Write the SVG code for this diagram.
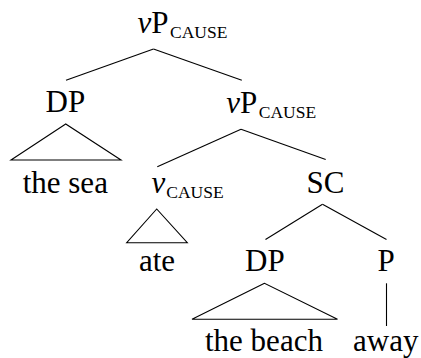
<svg xmlns="http://www.w3.org/2000/svg" width="421" height="358" viewBox="0 0 421 358">
<style>
text{font-family:"Liberation Serif","Times New Roman",serif;font-size:31px;fill:#000}
.it{font-style:italic}
.sub{font-size:17.5px}
.edge{stroke:#000;stroke-width:1.1;fill:none}
</style>
<rect width="421" height="358" fill="#fff"/>
<g id="connectors">
<line class="edge" x1="153.5" y1="49" x2="66" y2="80.3"/>
<line class="edge" x1="153.5" y1="49" x2="241.8" y2="80.3"/>
<polygon class="edge" points="65.7,124 11,160 121,160"/>
<line class="edge" x1="241" y1="129.3" x2="157.3" y2="166.7"/>
<line class="edge" x1="241" y1="129.3" x2="325.7" y2="159.5"/>
<polygon class="edge" points="156.7,209 126.7,242.7 187.3,242.7"/>
<line class="edge" x1="322.5" y1="204.3" x2="265.5" y2="239.5"/>
<line class="edge" x1="322.5" y1="204.3" x2="386.5" y2="239.5"/>
<polygon class="edge" points="264.5,283.3 192,319.3 337.5,319.3"/>
<line class="edge" x1="386.5" y1="283.3" x2="386.5" y2="326"/>
</g>
<g id="vP-top"><text x="137.5" y="33.3"><tspan class="it">v</tspan>P<tspan class="sub" dx="1.5" dy="5">CAUSE</tspan></text></g>
<g id="DP-1"><text x="45.5" y="112">DP</text></g>
<g id="the-sea"><text x="22.7" y="193">the sea</text></g>
<g id="vP-mid"><text x="226.3" y="113.3"><tspan class="it">v</tspan>P<tspan class="sub" dx="1.5" dy="5">CAUSE</tspan></text></g>
<g id="v-cause"><text x="151.5" y="192.5"><tspan class="it">v</tspan><tspan class="sub" dx="1" dy="5">CAUSE</tspan></text></g>
<g id="SC"><text x="306.5" y="192.5">SC</text></g>
<g id="ate"><text x="139" y="271">ate</text></g>
<g id="DP-2"><text x="245" y="271">DP</text></g>
<g id="P"><text x="377.5" y="271">P</text></g>
<g id="the-beach"><text x="205" y="350.5">the beach</text></g>
<g id="away"><text x="353" y="350.5">away</text></g>
</svg>
